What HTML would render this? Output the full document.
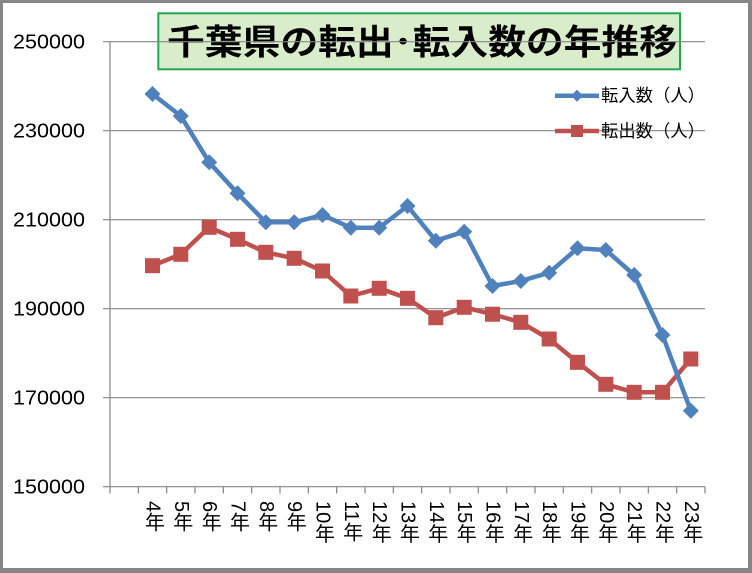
<!DOCTYPE html>
<html>
<head>
<meta charset="utf-8">
<style>
  html,body{margin:0;padding:0;background:#fff;}
  #wrap{position:relative;width:752px;height:573px;overflow:hidden;background:#fff;}
  #frame{position:absolute;left:0;top:0;width:745px;height:565px;border-left:3px solid #868686;border-top:3px solid #868686;border-right:4px solid #868686;border-bottom:5px solid #868686;}
  svg{position:absolute;left:0;top:0;}
  .xl{position:absolute;top:501px;width:20px;writing-mode:vertical-rl;text-orientation:mixed;font-family:"Liberation Sans","Noto Sans CJK JP",sans-serif;font-size:20px;line-height:20px;color:#000;white-space:nowrap;}
</style>
</head>
<body>
<div id="wrap">
<div id="frame"></div>
<svg width="752" height="573" viewBox="0 0 752 573" xmlns="http://www.w3.org/2000/svg">
  <!-- title box -->
  <rect x="158.3" y="13.3" width="521.7" height="56" fill="#DAEDCB" stroke="#22A650" stroke-width="2"/>
  <text x="167" y="43" dominant-baseline="central" font-family="Liberation Sans, Noto Sans CJK JP, sans-serif" font-weight="bold" font-size="35" textLength="510" lengthAdjust="spacingAndGlyphs" fill="#000">千葉県の転出･転入数の年推移</text>

  <!-- gridlines -->
  <g stroke="#868686" stroke-width="1.2" fill="none">
    <line x1="103" y1="41.7" x2="705" y2="41.7"/>
    <line x1="103" y1="130.7" x2="705" y2="130.7"/>
    <line x1="103" y1="219.7" x2="705" y2="219.7"/>
    <line x1="103" y1="308.7" x2="705" y2="308.7"/>
    <line x1="103" y1="397.7" x2="705" y2="397.7"/>
    <line x1="103" y1="486.7" x2="705" y2="486.7"/>
    <line x1="110" y1="41.7" x2="110" y2="486.7"/>
  </g>
  <!-- x ticks -->
  <g stroke="#868686" stroke-width="1.2">
    <line x1="110" y1="486.7" x2="110" y2="493.5"/>
    <line x1="138.33" y1="486.7" x2="138.33" y2="493.5"/>
    <line x1="166.67" y1="486.7" x2="166.67" y2="493.5"/>
    <line x1="195" y1="486.7" x2="195" y2="493.5"/>
    <line x1="223.33" y1="486.7" x2="223.33" y2="493.5"/>
    <line x1="251.67" y1="486.7" x2="251.67" y2="493.5"/>
    <line x1="280" y1="486.7" x2="280" y2="493.5"/>
    <line x1="308.33" y1="486.7" x2="308.33" y2="493.5"/>
    <line x1="336.67" y1="486.7" x2="336.67" y2="493.5"/>
    <line x1="365" y1="486.7" x2="365" y2="493.5"/>
    <line x1="393.33" y1="486.7" x2="393.33" y2="493.5"/>
    <line x1="421.67" y1="486.7" x2="421.67" y2="493.5"/>
    <line x1="450" y1="486.7" x2="450" y2="493.5"/>
    <line x1="478.33" y1="486.7" x2="478.33" y2="493.5"/>
    <line x1="506.67" y1="486.7" x2="506.67" y2="493.5"/>
    <line x1="535" y1="486.7" x2="535" y2="493.5"/>
    <line x1="563.33" y1="486.7" x2="563.33" y2="493.5"/>
    <line x1="591.67" y1="486.7" x2="591.67" y2="493.5"/>
    <line x1="620" y1="486.7" x2="620" y2="493.5"/>
    <line x1="648.33" y1="486.7" x2="648.33" y2="493.5"/>
    <line x1="676.67" y1="486.7" x2="676.67" y2="493.5"/>
    <line x1="705" y1="486.7" x2="705" y2="493.5"/>
  </g>

  <!-- y labels -->
  <g font-family="Liberation Sans, sans-serif" font-size="20" fill="#000" text-anchor="end">
    <text x="85" y="48.6" textLength="72" lengthAdjust="spacingAndGlyphs">250000</text>
    <text x="85" y="137.6" textLength="72" lengthAdjust="spacingAndGlyphs">230000</text>
    <text x="85" y="226.6" textLength="72" lengthAdjust="spacingAndGlyphs">210000</text>
    <text x="85" y="315.6" textLength="72" lengthAdjust="spacingAndGlyphs">190000</text>
    <text x="85" y="404.6" textLength="72" lengthAdjust="spacingAndGlyphs">170000</text>
    <text x="85" y="493.6" textLength="72" lengthAdjust="spacingAndGlyphs">150000</text>
  </g>

  <!-- red series (転出) -->
  <polyline fill="none" stroke="#C0504D" stroke-width="4.5" stroke-linejoin="round"
    points="152.5,265.7 180.8,254.3 209.2,227.3 237.5,239.3 265.8,252.3 294.2,258.3 322.5,271 350.8,296 379.2,288.3 407.5,298.3 435.8,317.7 464.2,307.3 492.5,314.2 520.8,322.3 549.2,339 577.5,362.3 605.8,384.3 634.2,392.3 662.5,392.3 690.8,359"/>
  <g fill="#C0504D">
    <rect x="145" y="258.2" width="15" height="15"/>
    <rect x="173.3" y="246.8" width="15" height="15"/>
    <rect x="201.7" y="219.8" width="15" height="15"/>
    <rect x="230" y="231.8" width="15" height="15"/>
    <rect x="258.3" y="244.8" width="15" height="15"/>
    <rect x="286.7" y="250.8" width="15" height="15"/>
    <rect x="315" y="263.5" width="15" height="15"/>
    <rect x="343.3" y="288.5" width="15" height="15"/>
    <rect x="371.7" y="280.8" width="15" height="15"/>
    <rect x="400" y="290.8" width="15" height="15"/>
    <rect x="428.3" y="310.2" width="15" height="15"/>
    <rect x="456.7" y="299.8" width="15" height="15"/>
    <rect x="485" y="306.7" width="15" height="15"/>
    <rect x="513.3" y="314.8" width="15" height="15"/>
    <rect x="541.7" y="331.5" width="15" height="15"/>
    <rect x="570" y="354.8" width="15" height="15"/>
    <rect x="598.3" y="376.8" width="15" height="15"/>
    <rect x="626.7" y="384.8" width="15" height="15"/>
    <rect x="655" y="384.8" width="15" height="15"/>
    <rect x="683.3" y="351.5" width="15" height="15"/>
  </g>

  <!-- blue series (転入) -->
  <polyline fill="none" stroke="#4F81BD" stroke-width="4.5" stroke-linejoin="round"
    points="152.5,94 180.8,116 209.2,162.3 237.5,193.3 265.8,222.3 294.2,222.3 322.5,215 350.8,227.7 379.2,227.7 407.5,206 435.8,240.7 464.2,231.7 492.5,286 520.8,281 549.2,272.7 577.5,248.3 605.8,250 634.2,275 662.5,335 690.8,410.7"/>
  <g fill="#4F81BD">
    <path d="M152.5,86 l8,8 l-8,8 l-8,-8z"/>
    <path d="M180.8,108 l8,8 l-8,8 l-8,-8z"/>
    <path d="M209.2,154.3 l8,8 l-8,8 l-8,-8z"/>
    <path d="M237.5,185.3 l8,8 l-8,8 l-8,-8z"/>
    <path d="M265.8,214.3 l8,8 l-8,8 l-8,-8z"/>
    <path d="M294.2,214.3 l8,8 l-8,8 l-8,-8z"/>
    <path d="M322.5,207 l8,8 l-8,8 l-8,-8z"/>
    <path d="M350.8,219.7 l8,8 l-8,8 l-8,-8z"/>
    <path d="M379.2,219.7 l8,8 l-8,8 l-8,-8z"/>
    <path d="M407.5,198 l8,8 l-8,8 l-8,-8z"/>
    <path d="M435.8,232.7 l8,8 l-8,8 l-8,-8z"/>
    <path d="M464.2,223.7 l8,8 l-8,8 l-8,-8z"/>
    <path d="M492.5,278 l8,8 l-8,8 l-8,-8z"/>
    <path d="M520.8,273 l8,8 l-8,8 l-8,-8z"/>
    <path d="M549.2,264.7 l8,8 l-8,8 l-8,-8z"/>
    <path d="M577.5,240.3 l8,8 l-8,8 l-8,-8z"/>
    <path d="M605.8,242 l8,8 l-8,8 l-8,-8z"/>
    <path d="M634.2,267 l8,8 l-8,8 l-8,-8z"/>
    <path d="M662.5,327 l8,8 l-8,8 l-8,-8z"/>
    <path d="M690.8,402.7 l8,8 l-8,8 l-8,-8z"/>
  </g>

  <!-- legend -->
  <line x1="555" y1="95.7" x2="599" y2="95.7" stroke="#4F81BD" stroke-width="4.5"/>
  <path d="M577,89.7 l6,6 l-6,6 l-6,-6z" fill="#4F81BD"/>
  <line x1="555" y1="131" x2="599" y2="131" stroke="#C0504D" stroke-width="4.5"/>
  <rect x="571" y="125" width="12" height="12" fill="#C0504D"/>
  <g font-family="Liberation Sans, Noto Sans CJK JP, sans-serif" font-size="17.5" fill="#000">
    <text x="601" y="95.7" dominant-baseline="central" textLength="104" lengthAdjust="spacingAndGlyphs">転入数（人）</text>
    <text x="601" y="131" dominant-baseline="central" textLength="104" lengthAdjust="spacingAndGlyphs">転出数（人）</text>
  </g>
</svg>

<div class="xl" style="left:142.5px">4年</div>
<div class="xl" style="left:170.8px">5年</div>
<div class="xl" style="left:199.2px">6年</div>
<div class="xl" style="left:227.5px">7年</div>
<div class="xl" style="left:255.8px">8年</div>
<div class="xl" style="left:284.2px">9年</div>
<div class="xl" style="left:312.5px">10年</div>
<div class="xl" style="left:340.8px">11年</div>
<div class="xl" style="left:369.2px">12年</div>
<div class="xl" style="left:397.5px">13年</div>
<div class="xl" style="left:425.8px">14年</div>
<div class="xl" style="left:454.2px">15年</div>
<div class="xl" style="left:482.5px">16年</div>
<div class="xl" style="left:510.8px">17年</div>
<div class="xl" style="left:539.2px">18年</div>
<div class="xl" style="left:567.5px">19年</div>
<div class="xl" style="left:595.8px">20年</div>
<div class="xl" style="left:624.2px">21年</div>
<div class="xl" style="left:652.5px">22年</div>
<div class="xl" style="left:680.8px">23年</div>
</div>
</body>
</html>
